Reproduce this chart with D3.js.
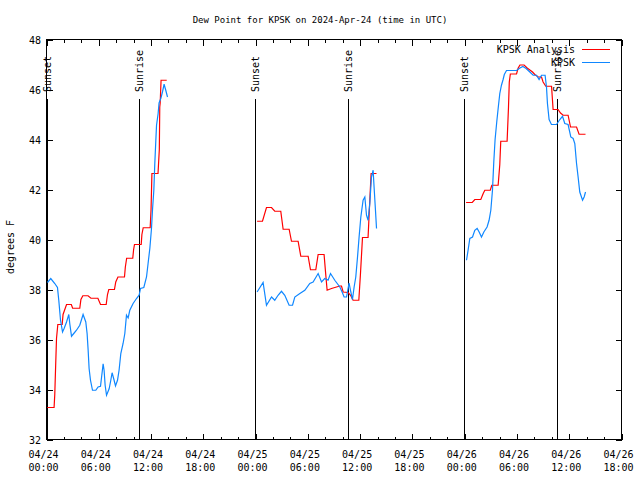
<!DOCTYPE html>
<html>
<head>
<meta charset="utf-8">
<script src="https://cdn.jsdelivr.net/npm/d3@7/dist/d3.min.js"></script>
<style>
  html, body { margin: 0; padding: 0; background: #fff; }
  svg { display: block; }
  text { font-family: "DejaVu Sans Mono", monospace; font-size: 10px; fill: #000; }
</style>
</head>
<body>
<svg id="chart" width="640" height="480"></svg>
<script>
// ---- data: hours since 2024-04-24 00:00 UTC, dew point (degrees F) ----
const titleText = "Dew Point for KPSK on 2024-Apr-24 (time in UTC)";
const yLabelText = "degrees F";
const seriesNames = ["KPSK Analysis", "KPSK"];
const seriesColors = ["#ff0000", "#0f87ff"];

const analysisDay1 = [[0.08,33.28],[0.87,33.28],[0.95,33.8],[1.05,34.95],[1.15,36.05],[1.3,36.6],[1.8,36.6],[1.9,37.0],[2.3,37.4],[2.85,37.4],[3.0,37.25],[3.82,37.25],[3.95,37.6],[4.17,37.75],[4.77,37.75],[5.1,37.65],[5.9,37.65],[6.2,37.4],[6.85,37.4],[7.0,37.8],[7.15,38.0],[7.8,38.0],[7.95,38.3],[8.2,38.5],[8.95,38.5],[9.05,38.9],[9.2,39.25],[9.9,39.25],[10.0,39.6],[10.1,39.8],[10.87,39.8],[10.95,40.2],[11.1,40.47],[11.9,40.47],[12.0,41.2],[12.1,42.64],[12.8,42.64],[12.95,43.6],[13.0,45.3],[13.05,45.46],[13.15,46.37],[13.8,46.37]];
const analysisDay2 = [[24.17,40.73],[24.79,40.73],[25.25,41.28],[25.83,41.28],[26.2,41.13],[26.89,41.13],[27.16,40.41],[27.85,40.41],[28.12,39.93],[28.88,39.93],[29.19,39.33],[30.03,39.33],[30.3,38.79],[30.91,38.79],[31.18,39.4],[31.86,39.4],[32.06,38.57],[32.21,37.97],[32.71,38.04],[33.67,38.14],[33.86,38.14],[34.05,37.9],[34.62,37.88],[34.9,37.77],[35.19,37.57],[35.85,37.57],[36.04,38.64],[36.27,40.08],[36.91,40.08],[37.11,41.57],[37.26,42.64],[37.88,42.64]];
const analysisDay3 = [[48.16,41.48],[48.87,41.48],[49.16,41.6],[49.85,41.6],[50.14,41.85],[50.31,41.97],[50.94,41.97],[51.11,42.17],[51.84,42.17],[52.03,43.0],[52.14,43.93],[52.87,43.93],[53.03,45.3],[53.12,46.3],[53.24,46.62],[53.95,46.62],[54.13,46.85],[54.34,46.98],[54.82,46.98],[55.17,46.86],[55.79,46.7],[56.05,46.6],[56.43,46.5],[56.82,46.5],[57.0,46.3],[57.31,46.13],[57.97,46.13],[58.15,45.2],[58.72,45.2],[59.0,45.06],[59.3,44.97],[59.87,44.97],[60.15,44.5],[60.84,44.5],[61.13,44.21],[61.87,44.21]];

const obsDay1 = [[0.11,38.28],[0.49,38.44],[0.95,38.24],[1.26,38.08],[1.41,37.57],[1.61,36.77],[1.84,36.3],[2.02,36.44],[2.3,36.7],[2.56,37.0],[2.67,36.64],[2.87,36.13],[3.13,36.24],[3.44,36.37],[3.82,36.57],[4.2,37.0],[4.51,36.7],[4.66,36.24],[4.78,35.57],[4.89,34.84],[5.05,34.37],[5.28,33.97],[5.66,33.97],[5.92,34.1],[6.2,34.13],[6.5,35.03],[6.61,34.77],[6.73,34.17],[6.89,33.77],[7.19,34.03],[7.38,34.37],[7.53,34.67],[7.76,34.37],[7.92,34.14],[8.15,34.37],[8.33,34.77],[8.53,35.44],[8.79,35.84],[8.99,36.24],[9.18,36.97],[9.37,36.86],[9.56,37.17],[9.94,37.44],[10.33,37.64],[10.63,37.77],[10.79,38.04],[11.17,38.08],[11.48,38.5],[11.66,39.04],[11.86,39.64],[12.05,40.44],[12.17,41.2],[12.32,41.97],[12.43,43.03],[12.55,43.97],[12.63,44.57],[12.81,45.03],[12.92,45.46],[13.12,45.64],[13.31,45.9],[13.5,46.21],[13.69,45.97],[13.89,45.7]];
const obsDay2 = [[24.17,37.9],[24.86,38.28],[25.25,37.37],[25.83,37.7],[26.2,37.57],[26.58,37.77],[26.97,37.93],[27.35,37.77],[27.85,37.37],[28.24,37.37],[28.5,37.7],[29.08,37.84],[29.65,37.97],[30.22,38.24],[30.6,38.3],[31.18,38.64],[31.57,38.3],[31.94,38.44],[32.32,38.37],[32.6,38.64],[33.09,38.37],[33.67,38.1],[33.93,37.9],[34.16,37.7],[34.44,37.7],[34.73,38.26],[34.93,37.9],[35.12,37.6],[35.31,38.1],[35.5,38.5],[35.7,39.3],[35.88,40.1],[36.08,40.9],[36.34,41.57],[36.54,41.7],[36.73,40.97],[36.91,40.77],[37.11,41.44],[37.3,42.5],[37.49,42.77],[37.6,42.1],[37.76,41.17],[37.88,40.44]];
const obsDay3 = [[48.21,39.17],[48.39,39.57],[48.59,40.04],[48.9,40.1],[49.16,40.37],[49.43,40.44],[49.66,40.3],[49.93,40.1],[50.2,40.3],[50.57,40.5],[50.8,40.77],[51.0,41.17],[51.19,41.97],[51.34,43.1],[51.49,44.0],[51.68,44.7],[51.86,45.3],[52.03,45.84],[52.22,46.17],[52.41,46.4],[52.55,46.6],[52.8,46.76],[53.95,46.76],[54.34,46.86],[54.68,46.92],[55.05,46.84],[55.48,46.7],[55.86,46.57],[56.25,46.57],[56.54,46.4],[56.82,46.57],[57.23,46.57],[57.39,46.1],[57.5,45.44],[57.69,44.8],[57.96,44.6],[58.54,44.6],[58.92,44.8],[59.23,44.93],[59.49,44.64],[59.87,44.6],[60.18,44.1],[60.45,44.04],[60.64,43.84],[60.84,43.04],[61.02,42.5],[61.21,41.9],[61.53,41.57],[61.71,41.7],[61.87,41.9]];

const sunEventHours = [0.03, 10.58, 23.92, 34.56, 47.9, 58.55];
const sunEventLabels = ["Sunset", "Sunrise", "Sunset", "Sunrise", "Sunset", "Sunrise"];

const yTicks = [32, 34, 36, 38, 40, 42, 44, 46, 48];
const xTickHours = [0, 6, 12, 18, 24, 30, 36, 42, 48, 54, 60, 66];
const xTickDates = ["04/24","04/24","04/24","04/24","04/25","04/25","04/25","04/25","04/26","04/26","04/26","04/26"];
const xTickTimes = ["00:00","06:00","12:00","18:00","00:00","06:00","12:00","18:00","00:00","06:00","12:00","18:00"];

// ---- drawing ----
const svg = d3.select("#chart");
const L = 46.5, R = 621.5, T = 39.5, B = 439.5;
const x = d3.scaleLinear().domain([0, 66]).range([L, R]);
const y = d3.scaleLinear().domain([32, 48]).range([B, T]);

svg.append("text").attr("x", 320).attr("y", 23).attr("text-anchor", "middle").style("font-size", "9px").text(titleText);

// y ticks left/right
const g = svg.append("g").attr("shape-rendering", "crispEdges");
yTicks.forEach(v => {
  const yy = Math.round(y(v)) + 0.5;
  g.append("line").attr("x1", L).attr("x2", L + 6).attr("y1", yy).attr("y2", yy).attr("stroke", "#000");
  g.append("line").attr("x1", R - 6).attr("x2", R).attr("y1", yy).attr("y2", yy).attr("stroke", "#000");
  svg.append("text").attr("x", 41).attr("y", yy + 3.5).attr("text-anchor", "end").text(v);
});

// x minor ticks every 2h, majors every 6h
d3.range(0, 67, 2).forEach(h => {
  const len = (h % 6 === 0) ? 6 : 3;
  const xx = Math.round(x(h)) + 0.5;
  g.append("line").attr("x1", xx).attr("x2", xx).attr("y1", B).attr("y2", B - len).attr("stroke", "#000");
  g.append("line").attr("x1", xx).attr("x2", xx).attr("y1", T).attr("y2", T + len).attr("stroke", "#000");
});
xTickHours.forEach((h, i) => {
  const t = svg.append("text").attr("x", x(h) - 3).attr("text-anchor", "middle");
  t.append("tspan").attr("x", x(h) - 3).attr("y", 458).text(xTickDates[i]);
  t.append("tspan").attr("x", x(h) - 3).attr("y", 471).text(xTickTimes[i]);
});

// y label
svg.append("text").attr("transform", "translate(14,247) rotate(-90)").attr("text-anchor", "middle").text(yLabelText);

// sunrise/sunset
sunEventHours.forEach((h, i) => {
  const xx = Math.round(x(h)) + 0.5;
  g.append("line").attr("x1", xx).attr("x2", xx).attr("y1", B).attr("y2", 99).attr("stroke", "#000");
  svg.append("text").attr("transform", `translate(${xx + 3.5},92) rotate(-90)`).attr("text-anchor", "start").text(sunEventLabels[i]);
});

// data lines
const line = d3.line().x(d => x(d[0])).y(d => y(d[1]));
[analysisDay1, analysisDay2, analysisDay3].forEach(s =>
  svg.append("path").datum(s).attr("d", line).attr("fill", "none").attr("stroke", seriesColors[0]).attr("stroke-width", 1.2));
[obsDay1, obsDay2, obsDay3].forEach(s =>
  svg.append("path").datum(s).attr("d", line).attr("fill", "none").attr("stroke", seriesColors[1]).attr("stroke-width", 1.2));

// legend
const legY = [49, 62];
seriesNames.forEach((n, i) => {
  svg.append("text").attr("x", 575).attr("y", legY[i] + 3.5).attr("text-anchor", "end").text(n);
  g.append("line").attr("x1", 582).attr("x2", 610).attr("y1", legY[i] + 0.5).attr("y2", legY[i] + 0.5).attr("stroke", seriesColors[i]);
});

// frame
g.append("rect").attr("x", L).attr("y", T).attr("width", R - L).attr("height", B - T).attr("fill", "none").attr("stroke", "#000");
</script>
</body>
</html>
